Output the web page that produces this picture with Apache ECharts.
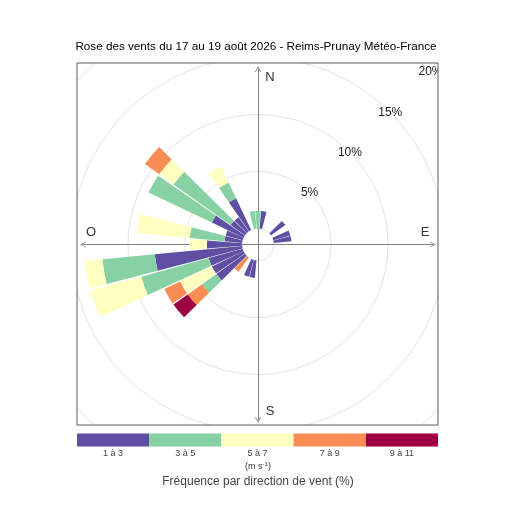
<!DOCTYPE html>
<html lang="fr">
<head>
<meta charset="UTF-8">
<title>Rose des vents - Reims-Prunay</title>
<script src="https://cdn.jsdelivr.net/npm/echarts@6.0.0/dist/echarts.min.js"></script>
<style>
  html, body { margin: 0; padding: 0; background: #fff; }
  #chart { width: 512px; height: 512px; }
</style>
</head>
<body>
<div id="chart"></div>
<script>
// secteurs de 10 degres, 0 = Nord, sens horaire
var directions = ['0', '10', '20', '30', '40', '50', '60', '70', '80',
  '90', '100', '110', '120', '130', '140', '150', '160', '170',
  '180', '190', '200', '210', '220', '230', '240', '250', '260',
  '270', '280', '290', '300', '310', '320', '330', '340', '350'];
var speedBins = ['1 à 3', '3 à 5', '5 à 7', '7 à 9', '9 à 11'];
var binColors = ['#5E4FA2', '#88D1A4', '#FFFFBF', '#FA8D53', '#9E0142'];
var ringTicks = [5, 10, 15, 20];

// frequence (%) par direction, une liste par classe de vitesse
//            0     10    20 30 40 50    60 70    80    90 100 110 120 130 140 150 160 170
var freq1 = [0,    1.54, 0, 0, 0, 1.54, 0, 1.54, 1.54, 0, 0, 0, 0, 0, 0, 0, 0, 0,
//           180 190   200   210 220 230   240   250   260   270   280   290   300   310   320   330   340 350
             0,  1.54, 1.54, 0,  0,  3.08, 3.08, 3.08, 7.69, 3.08, 1.54, 1.54, 3.08, 1.54, 1.54, 3.08, 0, 0];
var freq2 = [1.54, 0, 0, 0, 0, 0, 0, 0, 0, 0, 0, 0, 0, 0, 0, 0, 0, 0,
             0, 0, 0, 0, 0, 1.54, 0, 6.15, 4.62, 0, 3.08, 0, 6.15, 6.15, 0, 1.54, 0, 1.54];
var freq3 = [0, 0, 0, 0, 0, 0, 0, 0, 0, 0, 0, 0, 0, 0, 0, 0, 0, 0,
             0, 0, 0, 0, 0, 0, 3.08, 4.62, 1.54, 1.54, 4.62, 0, 0, 1.54, 0, 1.54, 0, 0];
var freq4 = [0, 0, 0, 0, 0, 0, 0, 0, 0, 0, 0, 0, 0, 0, 0, 0, 0, 0,
             0, 0, 0, 0, 1.54, 1.54, 1.54, 0, 0, 0, 0, 0, 0, 1.54, 0, 0, 0, 0];
var freq5 = [0, 0, 0, 0, 0, 0, 0, 0, 0, 0, 0, 0, 0, 0, 0, 0, 0, 0,
             0, 0, 0, 0, 0, 1.54, 0, 0, 0, 0, 0, 0, 0, 0, 0, 0, 0, 0];
var freqs = [freq1, freq2, freq3, freq4, freq5];

var FONT = '"Liberation Sans", Arial, sans-serif';
var cx = 258, cy = 244.5;
var box = { x: 77, y: 63, w: 361, h: 362 };

var myChart = echarts.init(document.getElementById('chart'), null, { renderer: 'canvas' });

var arrowPath = 'path://M0,10 L5,0 L10,10 L8.6,10 L5,2.8 L1.4,10 Z';
var crossAxis = {
  type: 'value', min: -1, max: 1,
  axisLine: { show: true, onZero: true, symbol: [arrowPath, arrowPath], symbolSize: [7, 6],
    lineStyle: { color: '#808080', width: 1 } },
  axisTick: { show: false }, axisLabel: { show: false }, splitLine: { show: false }
};

var graphics = [
  // on masque les cercles hors du cadre
  { type: 'rect', z: 10, shape: { x: 0, y: 0, width: 512, height: box.y }, style: { fill: '#fff' } },
  { type: 'rect', z: 10, shape: { x: 0, y: box.y + box.h, width: 512, height: 512 - box.y - box.h }, style: { fill: '#fff' } },
  { type: 'rect', z: 10, shape: { x: 0, y: box.y, width: box.x, height: box.h }, style: { fill: '#fff' } },
  { type: 'rect', z: 10, shape: { x: box.x + box.w, y: box.y, width: 512, height: box.h }, style: { fill: '#fff' } },
  { type: 'rect', z: 20, shape: { x: box.x, y: box.y, width: box.w, height: box.h },
    style: { fill: 'none', stroke: '#5a5a5a', lineWidth: 1 } },
  { type: 'text', z: 20, x: 270, y: 77.5, style: { text: 'N', font: '13px ' + FONT, fill: '#333', align: 'center', verticalAlign: 'middle' } },
  { type: 'text', z: 20, x: 270, y: 411, style: { text: 'S', font: '13px ' + FONT, fill: '#333', align: 'center', verticalAlign: 'middle' } },
  { type: 'text', z: 20, x: 91, y: 232.5, style: { text: 'O', font: '13px ' + FONT, fill: '#333', align: 'center', verticalAlign: 'middle' } },
  { type: 'text', z: 20, x: 425, y: 232.5, style: { text: 'E', font: '13px ' + FONT, fill: '#333', align: 'center', verticalAlign: 'middle' } }
];

// legende en bandeau sous le cadre
var segW = box.w / speedBins.length;
speedBins.forEach(function (label, i) {
  graphics.push({ type: 'rect', z: 20,
    shape: { x: box.x + i * segW, y: 433.5, width: segW, height: 13 },
    style: { fill: binColors[i] } });
  graphics.push({ type: 'text', z: 20, x: box.x + (i + 0.5) * segW, y: 453.5,
    style: { text: label, font: '9px ' + FONT, fill: '#444', align: 'center', verticalAlign: 'middle' } });
});
graphics.push({ type: 'text', z: 20, x: cx, y: 467,
  style: { text: '(m s{sup|-1})', font: '9px ' + FONT, fill: '#333', align: 'center', verticalAlign: 'middle',
    rich: { sup: { fontSize: 6, verticalAlign: 'top', padding: [0, 0, 5, 0], fill: '#333' } } } });
graphics.push({ type: 'text', z: 20, x: cx, y: 481.5,
  style: { text: 'Fréquence par direction de vent (%)', font: '12px ' + FONT, fill: '#444', align: 'center', verticalAlign: 'middle' } });

var option = {
  animation: false,
  backgroundColor: '#fff',
  title: {
    text: 'Rose des vents du 17 au 19 août 2026 - Reims-Prunay Météo-France',
    left: 'center', top: 41, padding: 0, z: 20,
    textStyle: { fontFamily: FONT, fontSize: 11.7, fontWeight: 'normal', color: '#000' }
  },
  grid: { left: 83, right: 79, top: 69, bottom: 92 },
  xAxis: crossAxis,
  yAxis: crossAxis,
  polar: [
    { center: [cx, cy], radius: [16, 244] },
    { center: [cx, cy], radius: [16, 244] }
  ],
  angleAxis: [
    { polarIndex: 0, type: 'category', data: directions, startAngle: 95, clockwise: true,
      axisLine: { show: false }, axisTick: { show: false }, axisLabel: { show: false }, splitLine: { show: false } },
    { polarIndex: 1, type: 'value', startAngle: 45, min: 0, max: 360, show: false }
  ],
  radiusAxis: [
    { polarIndex: 0, type: 'value', min: 0, max: ringTicks[ringTicks.length - 1], interval: ringTicks[0],
      axisLine: { show: false }, axisTick: { show: false }, axisLabel: { show: false },
      splitLine: { show: true, lineStyle: { color: '#e3e3e3', width: 1 } } },
    { polarIndex: 1, type: 'value', min: 0, max: ringTicks[ringTicks.length - 1], interval: ringTicks[0],
      axisLine: { show: false }, axisTick: { show: false }, splitLine: { show: false },
      axisLabel: { show: true, margin: 0, rotate: 0, align: 'center', verticalAlign: 'middle',
        padding: [4, 0, 0, 0],
        fontFamily: FONT, fontSize: 12, color: '#222',
        formatter: function (v) { return ringTicks.indexOf(v) >= 0 ? v + '%' : ''; } } }
  ],
  series: speedBins.map(function (name, i) {
    return {
      type: 'bar', name: name, coordinateSystem: 'polar', polarIndex: 0,
      stack: 'rose', data: freqs[i], barCategoryGap: '8%', silent: true,
      itemStyle: { color: binColors[i] }
    };
  }),
  graphic: graphics
};

myChart.setOption(option);
</script>
</body>
</html>
